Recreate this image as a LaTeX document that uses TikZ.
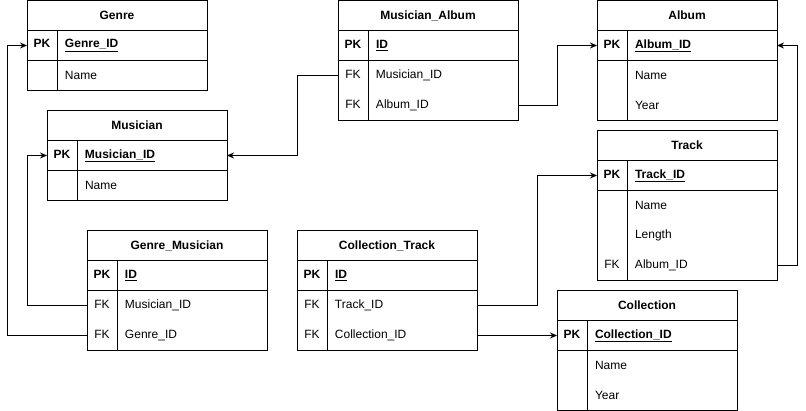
\documentclass[tikz,border=0pt]{standalone}
\usepackage{fontspec}
\setmainfont{Liberation Sans}
\usetikzlibrary{arrows.meta, positioning}

\newcommand{\tabfont}{\fontsize{12}{14}\selectfont}
\newcommand{\rowtext}[2]{\makebox[30pt]{#1}\hspace{8pt}#2}

\tikzset{
  tabhead/.style={draw, anchor=north west, minimum width=180pt, minimum height=30pt,
                  inner sep=0pt, outer sep=0pt, font=\tabfont\bfseries},
  tabrow/.style={minimum width=180pt, minimum height=30pt, inner sep=0pt, outer sep=0pt,
                 text width=180pt, align=left, font=\tabfont},
  keyrow/.style={tabrow, draw, font=\tabfont\bfseries},
  link/.style={-{Stealth[length=7pt, width=6pt]}, line width=1pt},
}

\begin{document}
\begin{tikzpicture}[x=1pt, y=-1pt, line width=1pt]
  \useasboundingbox (0,0) rectangle (806,411);

  % Genre
  \node[tabhead] (gen) at (27,0.5) {Genre};
  \node[keyrow, below=0pt of gen] (gen-pk) {\rowtext{PK}{\underline{Genre\_ID}}};
  \node[tabrow, below=0pt of gen-pk] (gen-name) {\rowtext{}{Name}};
  \draw (gen-pk.south west) rectangle (gen-name.south east);
  \draw ([xshift=30pt]gen-pk.north west) -- ([xshift=30pt]gen-name.south west);

  % Musician
  \node[tabhead] (mus) at (47,110.5) {Musician};
  \node[keyrow, below=0pt of mus] (mus-pk) {\rowtext{PK}{\underline{Musician\_ID}}};
  \node[tabrow, below=0pt of mus-pk] (mus-name) {\rowtext{}{Name}};
  \draw (mus-pk.south west) rectangle (mus-name.south east);
  \draw ([xshift=30pt]mus-pk.north west) -- ([xshift=30pt]mus-name.south west);

  % Musician_Album
  \node[tabhead] (ma) at (338,0.5) {Musician\_Album};
  \node[keyrow, below=0pt of ma] (ma-pk) {\rowtext{PK}{\underline{ID}}};
  \node[tabrow, below=0pt of ma-pk] (ma-mus) {\rowtext{FK}{Musician\_ID}};
  \node[tabrow, below=0pt of ma-mus] (ma-alb) {\rowtext{FK}{Album\_ID}};
  \draw (ma-pk.south west) rectangle (ma-alb.south east);
  \draw ([xshift=30pt]ma-pk.north west) -- ([xshift=30pt]ma-alb.south west);

  % Album
  \node[tabhead] (alb) at (597,0.5) {Album};
  \node[keyrow, below=0pt of alb] (alb-pk) {\rowtext{PK}{\underline{Album\_ID}}};
  \node[tabrow, below=0pt of alb-pk] (alb-name) {\rowtext{}{Name}};
  \node[tabrow, below=0pt of alb-name] (alb-year) {\rowtext{}{Year}};
  \draw (alb-pk.south west) rectangle (alb-year.south east);
  \draw ([xshift=30pt]alb-pk.north west) -- ([xshift=30pt]alb-year.south west);

  % Track
  \node[tabhead] (trk) at (597,130.5) {Track};
  \node[keyrow, below=0pt of trk] (trk-pk) {\rowtext{PK}{\underline{Track\_ID}}};
  \node[tabrow, below=0pt of trk-pk] (trk-name) {\rowtext{}{Name}};
  \node[tabrow, below=0pt of trk-name] (trk-len) {\rowtext{}{Length}};
  \node[tabrow, below=0pt of trk-len] (trk-alb) {\rowtext{FK}{Album\_ID}};
  \draw (trk-pk.south west) rectangle (trk-alb.south east);
  \draw ([xshift=30pt]trk-pk.north west) -- ([xshift=30pt]trk-alb.south west);

  % Genre_Musician
  \node[tabhead] (gm) at (87,230.5) {Genre\_Musician};
  \node[keyrow, below=0pt of gm] (gm-pk) {\rowtext{PK}{\underline{ID}}};
  \node[tabrow, below=0pt of gm-pk] (gm-mus) {\rowtext{FK}{Musician\_ID}};
  \node[tabrow, below=0pt of gm-mus] (gm-gen) {\rowtext{FK}{Genre\_ID}};
  \draw (gm-pk.south west) rectangle (gm-gen.south east);
  \draw ([xshift=30pt]gm-pk.north west) -- ([xshift=30pt]gm-gen.south west);

  % Collection_Track
  \node[tabhead] (ct) at (297,230.5) {Collection\_Track};
  \node[keyrow, below=0pt of ct] (ct-pk) {\rowtext{PK}{\underline{ID}}};
  \node[tabrow, below=0pt of ct-pk] (ct-trk) {\rowtext{FK}{Track\_ID}};
  \node[tabrow, below=0pt of ct-trk] (ct-col) {\rowtext{FK}{Collection\_ID}};
  \draw (ct-pk.south west) rectangle (ct-col.south east);
  \draw ([xshift=30pt]ct-pk.north west) -- ([xshift=30pt]ct-col.south west);

  % Collection
  \node[tabhead] (col) at (557,290.5) {Collection};
  \node[keyrow, below=0pt of col] (col-pk) {\rowtext{PK}{\underline{Collection\_ID}}};
  \node[tabrow, below=0pt of col-pk] (col-name) {\rowtext{}{Name}};
  \node[tabrow, below=0pt of col-name] (col-year) {\rowtext{}{Year}};
  \draw (col-pk.south west) rectangle (col-year.south east);
  \draw ([xshift=30pt]col-pk.north west) -- ([xshift=30pt]col-year.south west);

  % relations
  \draw[link] (ma-mus.west) -- +(-41,0) |- (mus-pk.east);
  \draw[link] (ma-alb.east) -- +(39,0) |- (alb-pk.west);
  \draw[link] (trk-alb.east) -- +(20,0) |- (alb-pk.east);
  \draw[link] (gm-mus.west) -- +(-60,0) |- (mus-pk.west);
  \draw[link] (gm-gen.west) -- +(-80,0) |- (gen-pk.west);
  \draw[link] (ct-trk.east) -- +(60,0) |- (trk-pk.west);
  \draw[link] (ct-col.east) -- (col-pk.west);
\end{tikzpicture}
\end{document}
